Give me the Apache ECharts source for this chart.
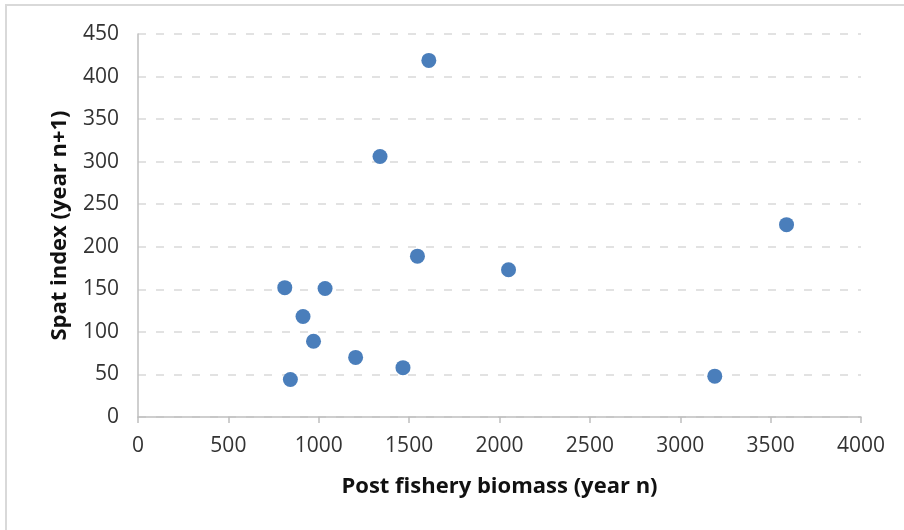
<!DOCTYPE html>
<html>
<head>
<meta charset="utf-8">
<script src="https://cdn.jsdelivr.net/npm/echarts@6/dist/echarts.min.js"></script>
<style>
  html, body { margin: 0; padding: 0; background: #ffffff; }
  #chart { width: 904px; height: 530px; }
</style>
</head>
<body>
<div id="chart"></div>
<script>
// Post fishery biomass (year n) vs spat index (year n+1)
const biomass = [1609, 1339, 3588, 1546, 2050, 812, 1035, 913, 971, 1204, 1466, 843, 3191];
const spatIndex = [419, 306, 226, 189, 173, 152, 151, 118, 89, 70, 58, 44, 48];

const xTitle = 'Post fishery biomass (year n)';
const yTitle = 'Spat index (year n+1)';

const points = biomass.map((b, i) => [b, spatIndex[i]]);

const chart = echarts.init(document.getElementById('chart'), null, { renderer: 'canvas' });

const fontFamily = '"Open Sans", "Liberation Sans", sans-serif';
const plain = (v) => String(v);

chart.setOption({
  backgroundColor: '#ffffff',
  animation: false,
  graphic: [{
    type: 'rect',
    shape: { x: 6, y: 5, width: 1000, height: 1000 },
    style: { fill: 'none', stroke: '#d9d9d9', lineWidth: 2 },
    silent: true,
    z: -10
  }],
  grid: { left: 138, right: 43, top: 34, bottom: 113 },
  xAxis: {
    type: 'value',
    min: 0,
    max: 4000,
    interval: 500,
    name: xTitle,
    nameLocation: 'middle',
    nameGap: 59,
    nameTextStyle: { fontFamily, fontSize: 22, fontWeight: 'bold', color: '#111111' },
    axisLine: { show: true, lineStyle: { color: '#bfbfbf', width: 1.5 } },
    axisTick: { show: true, length: 6, lineStyle: { color: '#bfbfbf', width: 1.5 } },
    axisLabel: { fontFamily, fontSize: 21, color: '#333333', margin: 19, formatter: plain },
    splitLine: { show: false }
  },
  yAxis: {
    type: 'value',
    min: 0,
    max: 450,
    interval: 50,
    name: yTitle,
    nameLocation: 'middle',
    nameRotate: 90,
    nameGap: 67,
    nameTextStyle: { fontFamily, fontSize: 22, fontWeight: 'bold', color: '#111111' },
    axisLine: { show: true, lineStyle: { color: '#bfbfbf', width: 1.5 } },
    axisTick: { show: false },
    axisLabel: { fontFamily, fontSize: 21, color: '#333333', margin: 19, formatter: plain },
    splitLine: { show: true, lineStyle: { color: '#d9d9d9', width: 1.5, type: [8, 10] } }
  },
  series: [{
    type: 'scatter',
    data: points,
    symbol: 'circle',
    symbolSize: 15,
    itemStyle: { color: '#4a7ebb', opacity: 1 }
  }]
});
</script>
</body>
</html>
